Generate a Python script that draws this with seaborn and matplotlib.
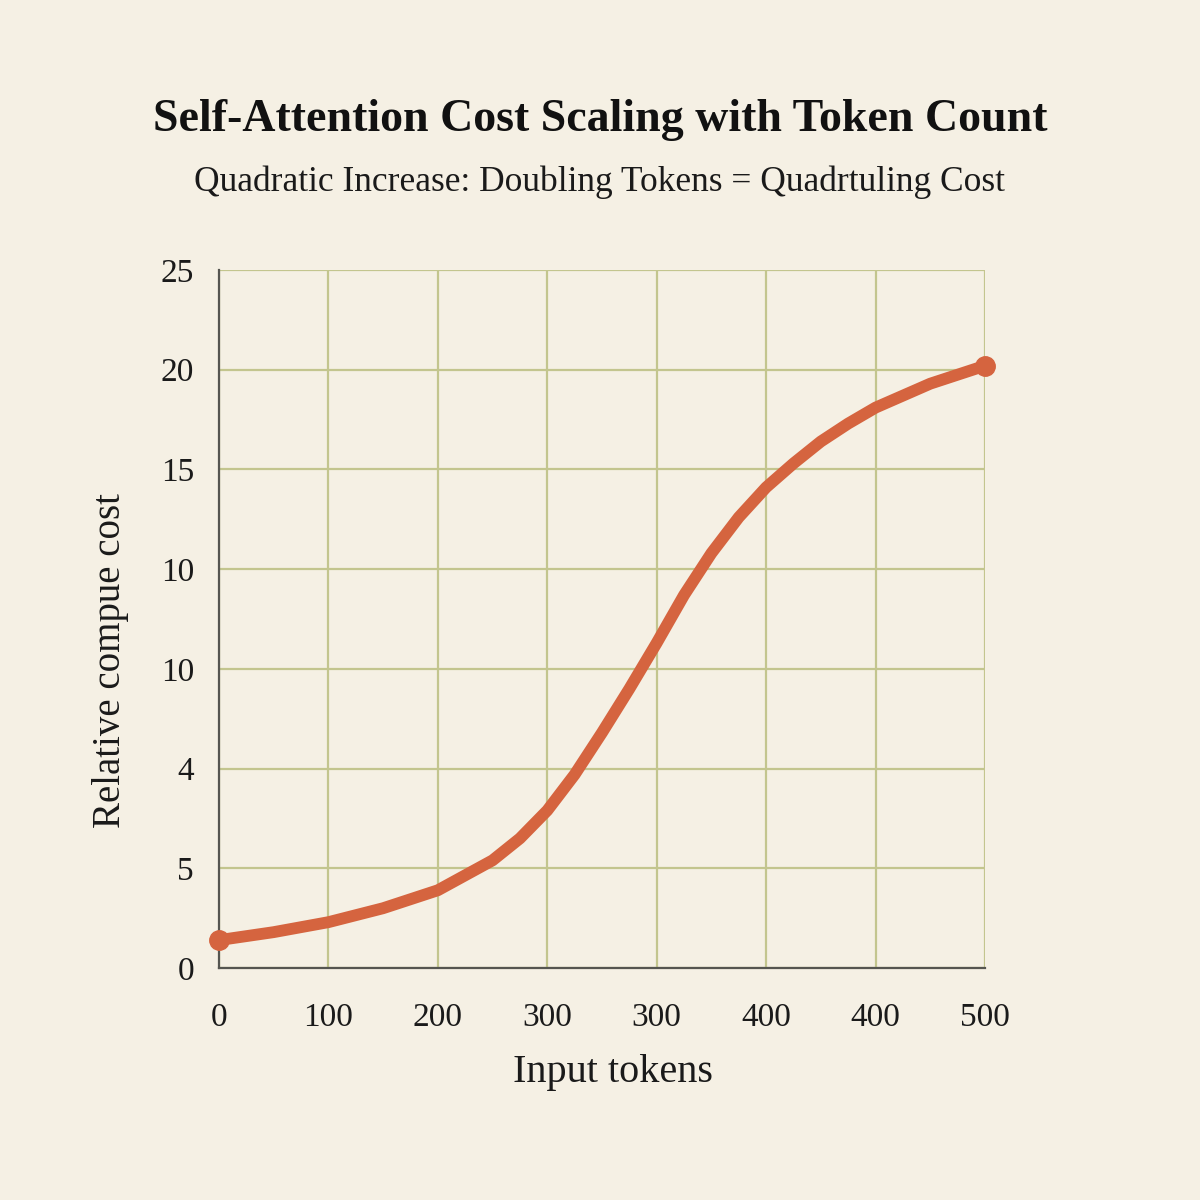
import matplotlib
matplotlib.use("Agg")
import matplotlib.pyplot as plt
import seaborn as sns
import pandas as pd

# values (grid units: x 0..700, y 0..35)
tokens = [0, 50, 100, 150, 200, 250, 275, 300, 325, 350, 375, 400, 425, 450,
          475, 500, 525, 550, 575, 600, 650, 700]
cost = [1.4, 1.8, 2.3, 3.0, 3.9, 5.4, 6.5, 7.9, 9.7, 11.8, 14.0, 16.3, 18.7, 20.8,
        22.6, 24.1, 25.3, 26.4, 27.3, 28.1, 29.3, 30.2]

x_ticks = [0, 100, 200, 300, 400, 500, 600, 700]
x_tick_labels = ["0", "100", "200", "300", "300", "400", "400", "500"]
y_ticks = [0, 5, 10, 15, 20, 25, 30, 35]
y_tick_labels = ["0", "5", "4", "10", "10", "15", "20", "25"]

bg = "#f5f0e4"
line_color = "#d5643f"
grid_color = "#c3c58e"
axis_color = "#555550"

sns.set_theme(style="whitegrid", rc={
    "figure.facecolor": bg,
    "axes.facecolor": bg,
    "grid.color": grid_color,
    "grid.linewidth": 1.6,
    "axes.edgecolor": axis_color,
})
plt.rcParams["font.family"] = ["Liberation Serif", "DejaVu Serif"]

df = pd.DataFrame({"tokens": tokens, "cost": cost})

fig = plt.figure(figsize=(12, 12), dpi=100)
ax = fig.add_axes([0.1825, 0.1933, 0.6383, 0.5817])

sns.lineplot(data=df, x="tokens", y="cost", ax=ax, color=line_color,
             linewidth=8.5, solid_capstyle="round", solid_joinstyle="round")
ends = df.iloc[[0, -1]]
ax.plot(ends["tokens"], ends["cost"], "o", color=line_color, markersize=14,
        clip_on=False, zorder=5)

ax.set_xlim(0, 700)
ax.set_ylim(0, 35)
ax.set_xticks(x_ticks)
ax.set_xticklabels(x_tick_labels)
ax.set_yticks(y_ticks)
ax.set_yticklabels(y_tick_labels)
ax.tick_params(axis="both", which="major", labelsize=24, colors="#1a1a1a",
               length=10, width=1.5, direction="out")
ax.tick_params(axis="x", pad=15, color=axis_color)
ax.tick_params(axis="y", pad=8, color=axis_color)
ax.grid(True, color=grid_color, linewidth=1.6)

for side in ["top", "right"]:
    ax.spines[side].set_visible(False)
for side in ["left", "bottom"]:
    ax.spines[side].set_color(axis_color)
    ax.spines[side].set_linewidth(1.6)

ax.set_xlabel("Input tokens", fontsize=29, color="#1a1a1a")
ax.set_ylabel("Relative compue cost", fontsize=28, color="#1a1a1a")
ax.xaxis.set_label_coords(0.514, -0.123)
ax.yaxis.set_label_coords(-0.118, 0.441)

fig.text(0.5, 0.9, "Self-Attention Cost Scaling with Token Count", ha="center",
         va="center", fontsize=33, fontweight="bold", color="#111111")
fig.text(0.5, 0.848, "Quadratic Increase: Doubling Tokens = Quadrtuling Cost",
         ha="center", va="center", fontsize=25.5, color="#1a1a1a")

fig.savefig("out.png", dpi=100, facecolor=bg)
